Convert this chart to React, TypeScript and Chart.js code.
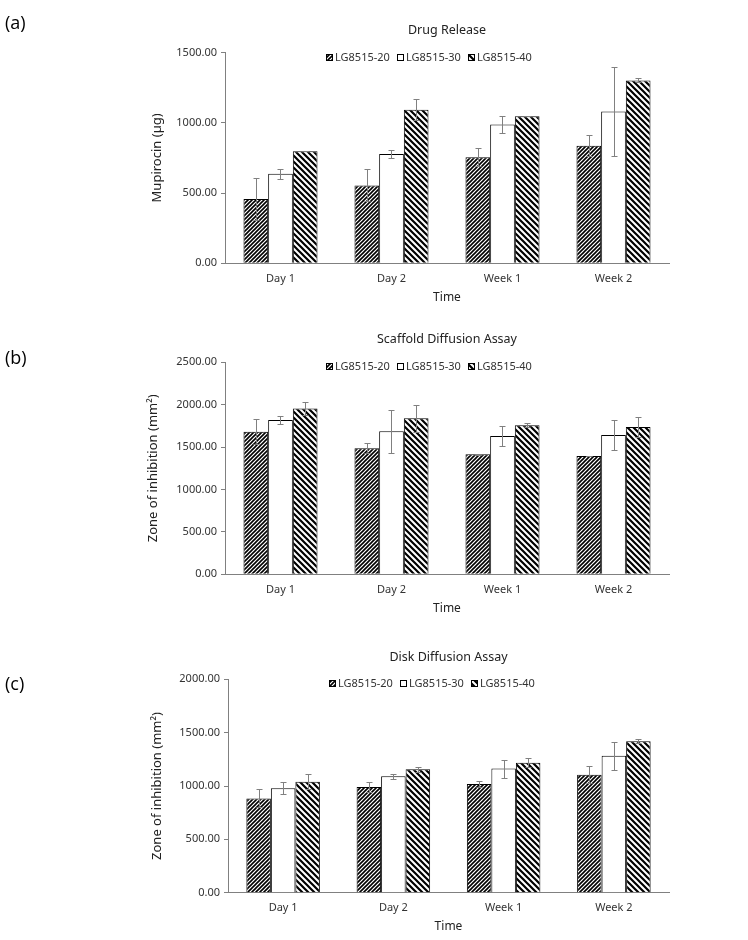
import React, { useEffect, useRef } from "react";
import { Chart, registerables } from "chart.js";

Chart.register(...registerables);
Chart.defaults.font.family = '"Noto Sans", sans-serif';

// ---------- data ----------
const categories = ["Day 1", "Day 2", "Week 1", "Week 2"];
const seriesLabels = ["LG8515-20", "LG8515-30", "LG8515-40"];

// (a) Drug release – Mupirocin (µg)
const releaseLG20 = [457, 554, 754, 836];
const releaseLG20Err = [147, 114, 64, 74];
const releaseLG30 = [637, 777, 988, 1081];
const releaseLG30Err = [36, 28, 58, 318];
const releaseLG40 = [798, 1092, 1047, 1301];
const releaseLG40Err = [0, 74, 0, 14];
const releaseTicks = [0, 500, 1000, 1500];

// (b) Scaffold diffusion assay – zone of inhibition (mm²)
const scaffoldLG20 = [1682, 1486, 1415, 1395];
const scaffoldLG20Err = [150, 59, 5, 0];
const scaffoldLG30 = [1820, 1686, 1631, 1643];
const scaffoldLG30Err = [51, 252, 114, 173];
const scaffoldLG40 = [1954, 1840, 1757, 1737];
const scaffoldLG40Err = [74, 161, 24, 122];
const scaffoldTicks = [0, 500, 1000, 1500, 2000, 2500];

// (c) Disk diffusion assay – zone of inhibition (mm²)
const diskLG20 = [884, 991, 1019, 1106];
const diskLG20Err = [85, 50, 25, 82];
const diskLG30 = [978, 1091, 1163, 1284];
const diskLG30Err = [56, 25, 84, 132];
const diskLG40 = [1041, 1156, 1219, 1419];
const diskLG40Err = [68, 25, 40, 19];
const diskTicks = [0, 500, 1000, 1500, 2000];

// ---------- patterns ----------
function makePattern(kind: "dense" | "wide"): CanvasPattern | string {
  const size = kind === "dense" ? 4 : 6;
  const c = document.createElement("canvas");
  c.width = size;
  c.height = size;
  const g = c.getContext("2d");
  if (!g) return "#888";
  g.fillStyle = "#fff";
  g.fillRect(0, 0, size, size);
  g.strokeStyle = "#000";
  g.lineWidth = kind === "dense" ? 1.6 : 2.2;
  g.beginPath();
  for (let k = -1; k <= 1; k++) {
    if (kind === "dense") {
      g.moveTo(k * size - 1, size + 1);
      g.lineTo(k * size + size + 1, -1);
    } else {
      g.moveTo(k * size - 1, -1);
      g.lineTo(k * size + size + 1, size + 1);
    }
  }
  g.stroke();
  return g.createPattern(c, "repeat") || "#888";
}

// ---------- plugins ----------
const errorBarPlugin = {
  id: "errorBars",
  afterDatasetsDraw(chart: any) {
    const ctx = chart.ctx;
    const yScale = chart.scales.y;
    chart.data.datasets.forEach((ds: any, i: number) => {
      const meta = chart.getDatasetMeta(i);
      meta.data.forEach((bar: any, j: number) => {
        const v = ds.data[j];
        const e = ds.errors[j];
        const xs = Math.round(bar.x) + 0.5;
        const yTop = Math.round(yScale.getPixelForValue(v + e)) + 0.5;
        const yBot = Math.round(yScale.getPixelForValue(v - e)) + 0.5;
        ctx.save();
        ctx.strokeStyle = "#808080";
        ctx.lineWidth = 1;
        ctx.beginPath();
        ctx.moveTo(xs, yTop);
        ctx.lineTo(xs, yBot);
        ctx.moveTo(xs - 3, yTop);
        ctx.lineTo(xs + 3, yTop);
        ctx.moveTo(xs - 3, yBot);
        ctx.lineTo(xs + 3, yBot);
        ctx.stroke();
        ctx.restore();
      });
    });
  },
};

const hatchLegendPlugin = {
  id: "hatchLegend",
  afterDraw(chart: any, _args: any, opts: any) {
    const { ctx, chartArea } = chart;
    let x = chartArea.left + opts.dx;
    const y = chartArea.top + opts.dy;
    ctx.save();
    ctx.font = '11px "Noto Sans", sans-serif';
    ctx.textBaseline = "middle";
    ctx.textAlign = "left";
    chart.data.datasets.forEach((ds: any) => {
      const bx = Math.round(x);
      const by = Math.round(y - 3.5);
      ctx.fillStyle = ds.backgroundColor;
      ctx.fillRect(bx, by, 7, 7);
      ctx.strokeStyle = "#000";
      ctx.lineWidth = 1;
      ctx.strokeRect(bx + 0.5, by + 0.5, 6, 6);
      ctx.fillStyle = "#333";
      ctx.fillText(ds.label, bx + 9, y + 0.5);
      x += opts.step;
    });
    ctx.restore();
  },
};

const panelTitlePlugin = {
  id: "panelTitle",
  afterDraw(chart: any, _args: any, opts: any) {
    const { ctx, chartArea } = chart;
    ctx.save();
    ctx.font = '12.5px "Noto Sans", sans-serif';
    ctx.fillStyle = "#222";
    ctx.textAlign = "center";
    ctx.textBaseline = "middle";
    ctx.fillText(opts.text, (chartArea.left + chartArea.right) / 2, chartArea.top + opts.dy);
    ctx.restore();
  },
};

// ---------- panel configs ----------
type PanelDef = {
  top: number;
  height: number;
  title: string;
  yTitle: string;
  ticks: number[];
  values: number[][];
  errors: number[][];
  padLeft: number;
  yWidth: number;
  padTop: number;
  padBottom: number;
  titleDy: number;
};

const panels: PanelDef[] = [
  {
    top: 0,
    height: 310,
    title: "Drug Release",
    yTitle: "Mupirocin (µg)",
    ticks: releaseTicks,
    values: [releaseLG20, releaseLG30, releaseLG40],
    errors: [releaseLG20Err, releaseLG30Err, releaseLG40Err],
    padLeft: 149,
    yWidth: 76,
    padTop: 52.5,
    padBottom: 5.5,
    titleDy: -22.5,
  },
  {
    top: 310,
    height: 310,
    title: "Scaffold Diffusion Assay",
    yTitle: "Zone of inhibition (mm²)",
    ticks: scaffoldTicks,
    values: [scaffoldLG20, scaffoldLG30, scaffoldLG40],
    errors: [scaffoldLG20Err, scaffoldLG30Err, scaffoldLG40Err],
    padLeft: 145,
    yWidth: 80,
    padTop: 52.3,
    padBottom: 4.5,
    titleDy: -22.5,
  },
  {
    top: 620,
    height: 320,
    title: "Disk Diffusion Assay",
    yTitle: "Zone of inhibition (mm²)",
    ticks: diskTicks,
    values: [diskLG20, diskLG30, diskLG40],
    errors: [diskLG20Err, diskLG30Err, diskLG40Err],
    padLeft: 149,
    yWidth: 79,
    padTop: 59.3,
    padBottom: 6.1,
    titleDy: -22.3,
  },
];

function buildConfig(p: PanelDef): any {
  const fills = [makePattern("dense"), "#ffffff", makePattern("wide")];
  return {
    type: "bar",
    data: {
      labels: categories,
      datasets: seriesLabels.map((label, i) => ({
        label,
        data: p.values[i],
        errors: p.errors[i],
        backgroundColor: fills[i],
        borderColor: "#000",
        borderWidth: 1,
        categoryPercentage: 0.667,
        barPercentage: 1.0,
      })),
    },
    options: {
      responsive: false,
      animation: false,
      devicePixelRatio: 1,
      layout: {
        padding: { top: p.padTop, bottom: p.padBottom, left: p.padLeft, right: 79 },
      },
      plugins: {
        legend: { display: false },
        title: { display: false },
        tooltip: { enabled: false },
        hatchLegend: { dx: 101, dy: 4.5, step: 71 },
        panelTitle: { text: p.title, dy: p.titleDy },
      },
      scales: {
        x: {
          grid: { display: false, drawTicks: false },
          border: { display: true, color: "#808080", width: 1 },
          ticks: { font: { size: 11 }, color: "#333", padding: 9 },
          title: {
            display: true,
            text: "Time",
            font: { size: 12 },
            color: "#222",
            padding: { top: 4, bottom: 0 },
          },
          afterFit: (s: any) => {
            s.height = 41.2;
          },
        },
        y: {
          min: 0,
          max: p.ticks[p.ticks.length - 1],
          afterBuildTicks: (s: any) => {
            s.ticks = p.ticks.map((v) => ({ value: v }));
          },
          afterFit: (s: any) => {
            s.width = p.yWidth;
          },
          ticks: {
            callback: (v: any) => Number(v).toFixed(2),
            font: { size: 11 },
            color: "#333",
            padding: 4,
          },
          grid: {
            display: true,
            drawOnChartArea: false,
            drawTicks: true,
            tickLength: 4,
            color: "#808080",
          },
          border: { display: true, color: "#808080", width: 1 },
          title: {
            display: true,
            text: p.yTitle,
            font: { size: 13 },
            color: "#222",
            padding: { top: 0, bottom: 0 },
          },
        },
      },
    },
    plugins: [errorBarPlugin, hatchLegendPlugin, panelTitlePlugin],
  };
}

function Panel({ def }: { def: PanelDef }) {
  const ref = useRef<HTMLCanvasElement>(null);
  useEffect(() => {
    if (!ref.current) return;
    const chart = new Chart(ref.current, buildConfig(def));
    return () => chart.destroy();
  }, [def]);
  return (
    <canvas
      ref={ref}
      width={748}
      height={def.height}
      style={{ position: "absolute", left: 0, top: def.top, width: 748, height: def.height, display: "block" }}
    />
  );
}

const panelLetters = ["(a)", "(b)", "(c)"];
const letterTops = [11, 346, 672];

export default function App() {
  return (
    <div style={{ position: "absolute", left: 0, top: 0, width: 748, height: 940, background: "#fff", overflow: "hidden" }}>
      {panels.map((p, i) => (
        <Panel key={i} def={p} />
      ))}
      {panelLetters.map((t, i) => (
        <div
          key={t}
          style={{
            position: "absolute",
            left: 5,
            top: letterTops[i],
            fontFamily: '"Open Sans", sans-serif',
            fontSize: 18,
            lineHeight: "22px",
            color: "#000",
          }}
        >
          {t}
        </div>
      ))}
    </div>
  );
}
